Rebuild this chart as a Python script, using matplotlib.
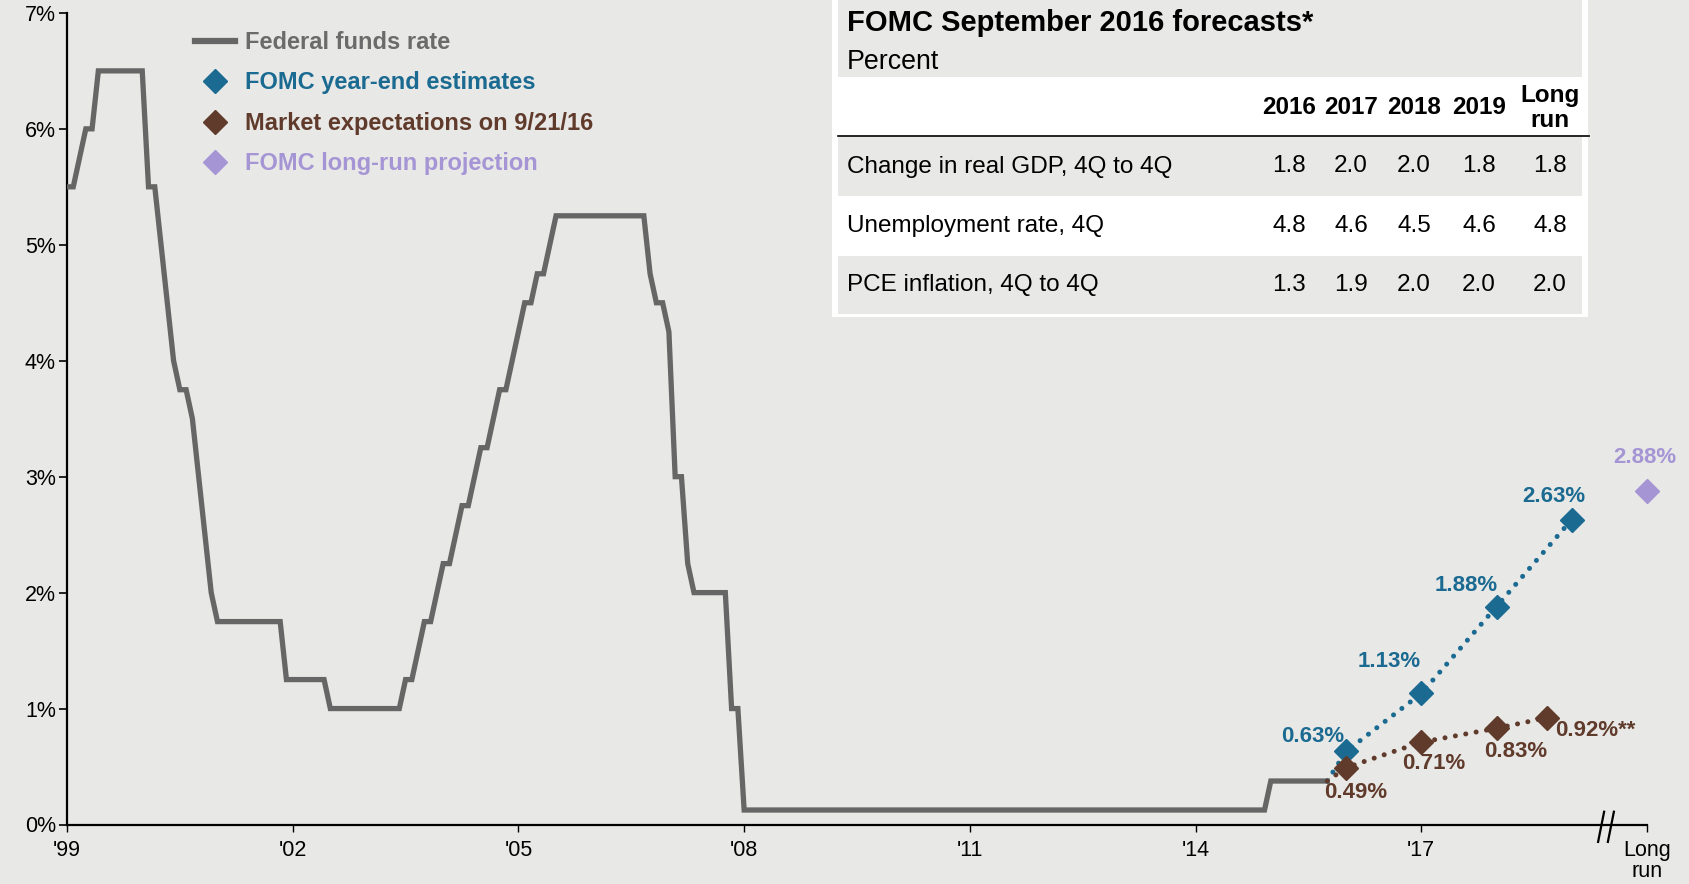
import matplotlib
matplotlib.use("Agg")
import matplotlib.pyplot as plt
from matplotlib.lines import Line2D
from matplotlib.patches import Rectangle

plt.rcParams['font.family'] = ['Liberation Sans', 'DejaVu Sans']

# federal funds target rate (range midpoint), month-end vertices of the line
ff_dates = ["1999-12", "2000-01", "2000-02", "2000-03", "2000-04", "2000-05", "2000-12",
            "2001-01", "2001-02", "2001-03", "2001-04", "2001-05", "2001-06", "2001-07",
            "2001-08", "2001-09", "2001-10", "2001-11", "2001-12", "2002-10", "2002-11",
            "2003-05", "2003-06", "2004-05", "2004-06", "2004-07", "2004-08", "2004-09",
            "2004-10", "2004-11", "2004-12", "2005-01", "2005-02", "2005-03", "2005-04",
            "2005-05", "2005-06", "2005-07", "2005-08", "2005-09", "2005-10", "2005-11",
            "2005-12", "2006-01", "2006-02", "2006-03", "2006-04", "2006-05", "2006-06",
            "2007-08", "2007-09", "2007-10", "2007-11", "2007-12", "2008-01", "2008-02",
            "2008-03", "2008-04", "2008-09", "2008-10", "2008-11", "2008-12", "2015-11",
            "2015-12", "2016-09"]
ff_rates = [5.50, 5.50, 5.75, 6.00, 6.00, 6.50, 6.50,
            5.50, 5.50, 5.00, 4.50, 4.00, 3.75, 3.75,
            3.50, 3.00, 2.50, 2.00, 1.75, 1.75, 1.25,
            1.25, 1.00, 1.00, 1.25, 1.25, 1.50, 1.75,
            1.75, 2.00, 2.25, 2.25, 2.50, 2.75, 2.75,
            3.00, 3.25, 3.25, 3.50, 3.75, 3.75, 4.00,
            4.25, 4.50, 4.50, 4.75, 4.75, 5.00, 5.25,
            5.25, 4.75, 4.50, 4.50, 4.25, 3.00, 3.00,
            2.25, 2.00, 2.00, 1.00, 1.00, 0.125, 0.125,
            0.375, 0.375]

fomc_dates = ["2016-12", "2017-12", "2018-12", "2019-12"]
fomc_vals = [0.63, 1.13, 1.88, 2.63]
market_dates = ["2016-12", "2017-12", "2018-12", "2019-08"]
market_vals = [0.49, 0.71, 0.83, 0.92]
market_suffix = ["", "", "", "**"]
long_run_x = 2021.0
long_run_val = 2.88

tick_years = [1999, 2002, 2005, 2008, 2011, 2014, 2017]
tick_labels = ["'99", "'02", "'05", "'08", "'11", "'14", "'17"]

table_title = "FOMC September 2016 forecasts*"
table_sub = "Percent"
table_cols = ["2016", "2017", "2018", "2019", "Long\nrun"]
table_rows = ["Change in real GDP, 4Q to 4Q", "Unemployment rate, 4Q", "PCE inflation, 4Q to 4Q"]
table_vals = [[1.8, 2.0, 2.0, 1.8, 1.8],
              [4.8, 4.6, 4.5, 4.6, 4.8],
              [1.3, 1.9, 2.0, 2.0, 2.0]]

BG = '#E8E8E6'
GRAY = '#666666'
BLUE = '#1B6A91'
BROWN = '#603B2C'
PURPLE = '#A595D5'


def to_x(ym):
    # month-end position: Dec of year Y sits at Y + 1.0
    y, m = ym.split("-")
    return int(y) + int(m) / 12


W, H = 1690, 884
fig = plt.figure(figsize=(W / 100, H / 100), dpi=100, facecolor=BG)
ax = fig.add_axes([67 / W, 1 - 824.5 / H, 1580 / W, 811.6 / H], facecolor=BG)

ff_x = [to_x(d) for d in ff_dates]
fomc_x = [to_x(d) for d in fomc_dates]
market_x = [to_x(d) for d in market_dates]

ax.plot(ff_x, ff_rates, color=GRAY, lw=3.8, solid_joinstyle='miter', zorder=3)

dots = (0, (0.01, 2.1))
ax.plot([ff_x[-1]] + fomc_x, [ff_rates[-1]] + fomc_vals, color=BLUE, lw=3.6,
        ls=dots, dash_capstyle='round', zorder=4)
ax.plot([ff_x[-1]] + market_x, [ff_rates[-1]] + market_vals, color=BROWN, lw=3.6,
        ls=dots, dash_capstyle='round', zorder=4)
ax.plot(fomc_x, fomc_vals, 'D', color=BLUE, ms=12, zorder=5)
ax.plot(market_x, market_vals, 'D', color=BROWN, ms=12, zorder=5)
ax.plot([long_run_x], [long_run_val], 'D', color=PURPLE, ms=12, zorder=5, clip_on=False)

lab_kw = dict(textcoords='offset pixels', fontsize=16, fontweight='bold', va='center')
fomc_off = [(-33, 15), (-32, 32), (-30, 21), (-18, 23)]
for x, v, off in zip(fomc_x, fomc_vals, fomc_off):
    ax.annotate(f"{v:.2f}%", (x, v), xytext=off, color=BLUE, ha='center', **lab_kw)
market_off = [(10, -25), (12, -21), (19, -23)]
for x, v, s, off in zip(market_x[:3], market_vals[:3], market_suffix[:3], market_off):
    ax.annotate(f"{v:.2f}%{s}", (x, v), xytext=off, color=BROWN, ha='center', **lab_kw)
ax.annotate(f"{market_vals[3]:.2f}%{market_suffix[3]}", (market_x[3], market_vals[3]),
            xytext=(8, -13), color=BROWN, ha='left', **lab_kw)
ax.annotate(f"{long_run_val:.2f}%", (long_run_x, long_run_val), xytext=(-2, 33),
            color=PURPLE, ha='center', **lab_kw)

ax.set_xlim(2000, 2021)
ax.set_ylim(0, 7)
ax.set_yticks(range(0, 8))
ax.set_yticklabels([f"{i}%" for i in range(0, 8)])
ax.set_xticks([y + 1 for y in tick_years] + [long_run_x])
ax.set_xticklabels(tick_labels + ["Long\nrun"], linespacing=1.0)
for s in ['top', 'right']:
    ax.spines[s].set_visible(False)
for s in ['left', 'bottom']:
    ax.spines[s].set_linewidth(1.6)
ax.tick_params(axis='y', length=6, width=1.2, labelsize=15.5, pad=2)
ax.tick_params(axis='x', length=5, width=1.0, labelsize=15.5, pad=6)

# axis break before the long-run point
brk = 2020.45
for dx in (-0.06, 0.07):
    ax.plot([brk + dx - 0.04, brk + dx + 0.04], [-0.15, 0.11], color='black',
            lw=1.6, clip_on=False, zorder=6)

handles = [Line2D([], [], color=GRAY, lw=4.5),
           Line2D([], [], color=BLUE, marker='D', ls='none', ms=12),
           Line2D([], [], color=BROWN, marker='D', ls='none', ms=12),
           Line2D([], [], color=PURPLE, marker='D', ls='none', ms=12)]
labels = ["Federal funds rate", "FOMC year-end estimates",
          "Market expectations on 9/21/16", "FOMC long-run projection"]
ax.legend(handles, labels, loc='upper left', bbox_to_anchor=(195 / W, 1 - 31 / H),
          bbox_transform=fig.transFigure, frameon=False,
          prop={'size': 17, 'weight': 'bold'}, labelcolor=['#6B6B6B', BLUE, BROWN, PURPLE],
          handlelength=1.7, handletextpad=0.4, labelspacing=0.74, borderpad=0, borderaxespad=0)


# forecast table, laid out in figure pixels (y from top)
def fx(px):
    return px / W


def fy(py):
    return 1 - py / H


def rect(x0, y0, x1, y1, color):
    fig.patches.append(Rectangle((fx(x0), fy(y1)), fx(x1) - fx(x0), fy(y0) - fy(y1),
                                 transform=fig.transFigure, facecolor=color,
                                 edgecolor='none', zorder=1))


rect(832, 0, 1588, 317, 'white')
rect(838, 0, 1582, 77, BG)
row_y = [(137, 196), (196, 256), (256, 314)]
for i, (a, b) in enumerate(row_y):
    rect(838, a, 1582, b, BG if i % 2 == 0 else 'white')
fig.add_artist(Line2D([fx(838), fx(1589)], [fy(136), fy(136)], color='black', lw=1.2))

fig.text(fx(847), fy(23), table_title, fontsize=21, fontweight='bold', va='center')
fig.text(fx(847), fy(62), table_sub, fontsize=19.3, va='center')
col_x = [1289, 1351, 1414, 1479, 1550]
for cx, c in zip(col_x, table_cols):
    fig.text(fx(cx), fy(108), c, fontsize=17.5, fontweight='bold', ha='center', va='center',
             linespacing=1.1)
for (a, b), name, vals in zip(row_y, table_rows, table_vals):
    cy = (a + b) / 2
    fig.text(fx(847), fy(cy), name, fontsize=17.5, va='center')
    for cx, v in zip(col_x, vals):
        fig.text(fx(cx), fy(cy), f"{v:.1f}", fontsize=17.5, ha='center', va='center')

fig.savefig('out.png', dpi=100, facecolor=BG)
